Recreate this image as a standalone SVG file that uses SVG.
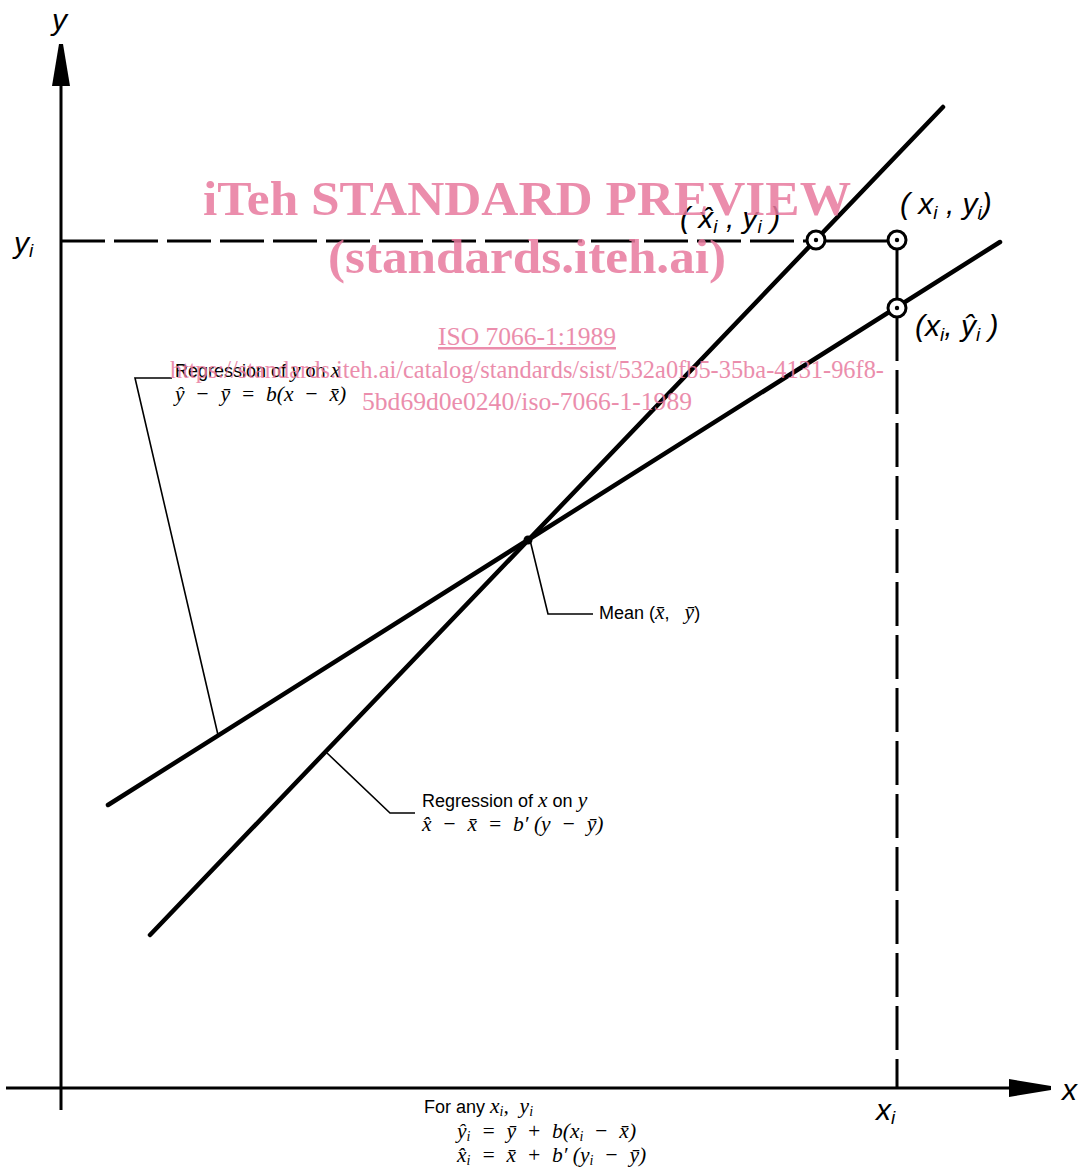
<svg xmlns="http://www.w3.org/2000/svg" width="1085" height="1169" viewBox="0 0 1085 1169">
<style>
.ax{stroke:#000;stroke-width:3;fill:none}
.reg{stroke:#000;stroke-width:4.5;fill:none;stroke-linecap:round}
.lead{stroke:#000;stroke-width:1.6;fill:none}
.dash{stroke:#000;stroke-width:3;fill:none;stroke-dasharray:44 9}
.lbl{font-family:"Liberation Sans",Arial,sans-serif;font-size:18px;fill:#000}
.m{font-family:"Liberation Serif","Times New Roman",serif;font-style:italic;font-size:21.5px;fill:#000}
.big{font-family:"Liberation Sans",Arial,sans-serif;font-style:italic;font-size:30px;fill:#000}
.pt{fill:#fff;stroke:#000;stroke-width:3}
.wm{font-family:"Liberation Serif","Times New Roman",serif;fill:#e87a9e;opacity:0.85;text-anchor:middle}
</style>
<defs>
<marker id="arr" viewBox="0 0 42 20" refX="42" refY="10" markerWidth="42" markerHeight="20" markerUnits="userSpaceOnUse" orient="auto">
<path d="M0,1 L42,8 Q44,10 42,12 L0,19 Z" fill="#000"/>
</marker>
</defs>
<g id="axes">
<line class="ax" x1="61" y1="1110" x2="61" y2="44" marker-end="url(#arr)"/>
<line class="ax" x1="6" y1="1088" x2="1051" y2="1088" marker-end="url(#arr)"/>
<text class="big" x="52" y="30">y</text>
<text class="big" x="1062" y="1100">x</text>
<text class="big" x="14" y="253">y<tspan font-size="19" dy="4">i</tspan></text>
<text class="big" x="876" y="1120">x<tspan font-size="19" dy="4">i</tspan></text>
</g>
<g id="connectors">
<line class="dash" x1="61" y1="241" x2="808" y2="241"/>
<line class="ax" x1="825" y1="241" x2="888" y2="241"/>
<line class="ax" x1="897" y1="250" x2="897" y2="299"/>
<line class="dash" x1="897" y1="317" x2="897" y2="1088"/>
<line class="reg" x1="108" y1="805" x2="1000" y2="242"/>
<line class="reg" x1="150" y1="935" x2="943" y2="107"/>
<polyline class="lead" points="172,378 135,378 218,735"/>
<polyline class="lead" points="327,753 390,813 415,813"/>
<polyline class="lead" points="530,540 548,614 593,614"/>
</g>
<g id="mean">
<circle cx="528" cy="540" r="4.5" fill="#000"/>
<text class="lbl" x="599" y="619" font-size="19">Mean (<tspan class="m">x̄</tspan>,&#160;&#160;&#160;<tspan class="m">ȳ</tspan>)</text>
</g>
<g id="point-xhat-y">
<circle class="pt" cx="816" cy="240" r="9"/>
<circle cx="816" cy="240" r="2.2" fill="#000"/>
<text class="big" x="680" y="228">(&#160;x̂<tspan font-size="19" dy="5">i</tspan><tspan dy="-5">&#160;,&#160;y</tspan><tspan font-size="19" dy="5">i</tspan><tspan dy="-5">&#160;)</tspan></text>
</g>
<g id="point-x-y">
<circle class="pt" cx="897" cy="240" r="9"/>
<circle cx="897" cy="240" r="2.2" fill="#000"/>
<text class="big" x="900" y="214">(&#160;x<tspan font-size="19" dy="5">i</tspan><tspan dy="-5">&#160;,&#160;y</tspan><tspan font-size="19" dy="5">i</tspan><tspan dy="-5">)</tspan></text>
</g>
<g id="point-x-yhat">
<circle class="pt" cx="897" cy="308" r="9"/>
<circle cx="897" cy="308" r="2.2" fill="#000"/>
<text class="big" x="915" y="336">(x<tspan font-size="19" dy="5">i</tspan><tspan dy="-5">,&#160;ŷ</tspan><tspan font-size="19" dy="5">i</tspan><tspan dy="-5">&#160;)</tspan></text>
</g>
<g id="label-y-on-x">
<text class="lbl" x="175" y="377">Regression of <tspan class="m">y</tspan> on <tspan class="m">x</tspan></text>
<text class="m" x="175" y="401">ŷ&#160;&#160;−&#160;&#160;ȳ&#160;&#160;=&#160;&#160;b(x&#160;&#160;−&#160;&#160;x̄)</text>
</g>
<g id="label-x-on-y">
<text class="lbl" x="422" y="807" font-size="20">Regression of <tspan class="m">x</tspan> on <tspan class="m">y</tspan></text>
<text class="m" x="422" y="831">x̂&#160;&#160;−&#160;&#160;x̄&#160;&#160;=&#160;&#160;b′&#160;(y&#160;&#160;−&#160;&#160;ȳ)</text>
</g>
<g id="formulas">
<text class="lbl" x="424" y="1113">For any <tspan class="m">x<tspan font-size="14" dy="3">i</tspan><tspan dy="-3">,&#160;&#160;y</tspan><tspan font-size="14" dy="3">i</tspan></tspan></text>
<text class="m" x="457" y="1138">ŷ<tspan font-size="14" dy="3">i</tspan><tspan dy="-3">&#160;&#160;=&#160;&#160;ȳ&#160;&#160;+&#160;&#160;b(x</tspan><tspan font-size="14" dy="3">i</tspan><tspan dy="-3">&#160;&#160;−&#160;&#160;x̄)</tspan></text>
<text class="m" x="457" y="1162">x̂<tspan font-size="14" dy="3">i</tspan><tspan dy="-3">&#160;&#160;=&#160;&#160;x̄&#160;&#160;+&#160;&#160;b′&#160;(y</tspan><tspan font-size="14" dy="3">i</tspan><tspan dy="-3">&#160;&#160;−&#160;&#160;ȳ)</tspan></text>
</g>
<g id="watermark">
<text class="wm" x="527" y="215" font-size="48" font-weight="bold" textLength="648" lengthAdjust="spacingAndGlyphs">iTeh STANDARD PREVIEW</text>
<text class="wm" x="527" y="273" font-size="48" font-weight="bold" textLength="398" lengthAdjust="spacingAndGlyphs">(standards.iteh.ai)</text>
<text class="wm" x="527" y="345" font-size="25" text-decoration="underline" textLength="178" lengthAdjust="spacingAndGlyphs">ISO 7066-1:1989</text>
<text class="wm" x="527" y="378" font-size="25" textLength="714" lengthAdjust="spacingAndGlyphs">https://standards.iteh.ai/catalog/standards/sist/532a0fb5-35ba-4131-96f8-</text>
<text class="wm" x="527" y="410" font-size="25" textLength="330" lengthAdjust="spacingAndGlyphs">5bd69d0e0240/iso-7066-1-1989</text>
</g>
</svg>
